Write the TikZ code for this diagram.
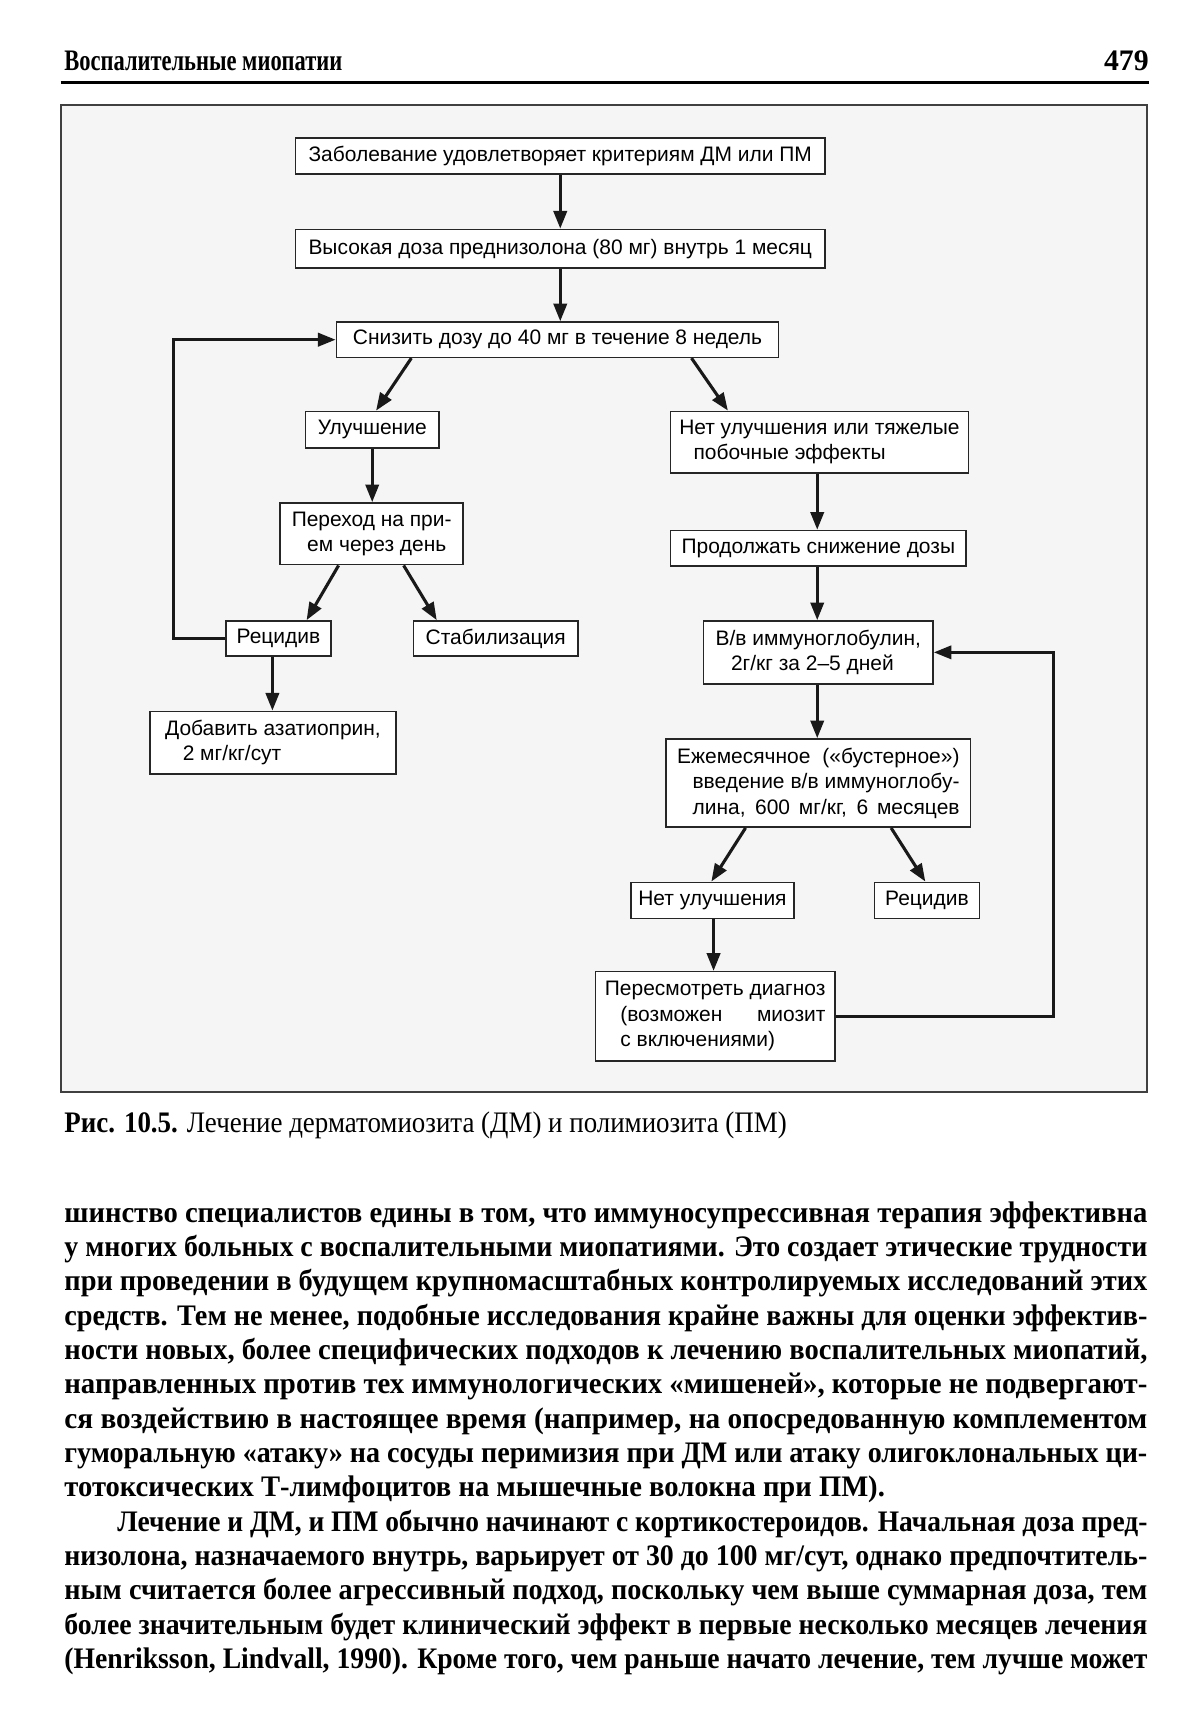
\documentclass[tikz,border=0pt]{standalone}
\usepackage{fontspec}
\usepackage{graphicx}
\setmainfont{Liberation Serif}
\newfontfamily\boxfont{Liberation Sans}
\usetikzlibrary{arrows.meta}
\newlength\jlen
\newcommand\jline[2]{\settowidth\jlen{#2}\ifdim\jlen>#1\relax\resizebox{#1}{\height}{#2}\else\makebox[#1][s]{#2}\fi}
\newcommand\bodyfont{\fontsize{13.5}{16}\selectfont\bfseries}
\tikzset{
  fbox/.style 2 args={draw=black!85, line width=0.7pt, fill=white, inner sep=0pt,
    minimum width=#1*0.5pt, minimum height=#2*0.5pt, align=left,
    font=\boxfont\fontsize{9.5}{11.5}\selectfont},
  arr/.style={line width=1.4pt, black!90, -{Triangle[length=8pt,width=6pt]}},
  bline/.style={anchor=base west, inner sep=0pt, font=\bodyfont},
}
\begin{document}
\begin{tikzpicture}[x=0.5pt,y=-0.5pt]
\useasboundingbox (0,0) rectangle (1088,1565);
\fill[white] (0,0) rectangle (1088,1565);
% header
\node[anchor=base west, inner sep=0pt, font=\fontsize{13.5}{16}\selectfont\bfseries] (hd) at (58,64) {\resizebox{126pt}{\height}{Воспалительные миопатии}};
\node[anchor=base east, inner sep=0pt, font=\fontsize{13.5}{16}\selectfont\bfseries] (pg) at (1042,64) {479};
\draw[line width=1.2pt] (55,75) -- (1042,75);
% frame
\draw[black!75, line width=0.8pt, fill=black!4] (55,95) rectangle (1040,990);
% boxes
\node[fbox={480}{33}] (b1) at (508,141.5) {Заболевание удовлетворяет критериям ДМ или ПМ};
\node[fbox={480}{35}] (b2) at (508,225.5) {Высокая доза преднизолона (80 мг) внутрь 1 месяц};
\node[fbox={401}{32}] (b3) at (505.5,308) {Снизить дозу до 40 мг в течение 8 недель};
\node[fbox={121}{33}] (u) at (337.5,389.5) {Улучшение};
\node[fbox={166}{56}] (p) at (337,484) {Переход на при-\\\hspace*{7pt}ем через день};
\node[fbox={95}{32}] (r1) at (252.5,579) {Рецидив};
\node[fbox={149}{32}] (s) at (449.5,579) {Стабилизация};
\node[fbox={223}{57}] (d) at (247.5,673.5) {Добавить азатиоприн,\\\hspace*{8pt}2 мг/кг/сут};
\node[fbox={270}{56}] (n) at (743,401) {Нет улучшения или тяжелые\\\hspace*{6.5pt}побочные эффекты};
\node[fbox={268}{32}] (pr) at (742,497) {Продолжать снижение дозы};
\node[fbox={208}{57}] (iv) at (742,591.5) {В/в иммуноглобулин,\\\hspace*{7pt}2г/кг за 2–5 дней};
\node[fbox={276}{80}] (em) at (742,710) {\jline{128pt}{Ежемесячное («бустерное»)}\\\hspace*{7pt}\jline{121pt}{введение в/в иммуноглобу-}\\\hspace*{7pt}\jline{121pt}{лина, 600 мг/кг, 6 месяцев}};
\node[fbox={148}{33}] (nu) at (646,816.5) {Нет улучшения};
\node[fbox={95}{33}] (r2) at (840.5,816.5) {Рецидив};
\node[fbox={217}{81}] (rv) at (648.5,921.5) {\jline{100pt}{Пересмотреть диагноз}\\\hspace*{7pt}\jline{93pt}{(возможен миозит}\\\hspace*{7pt}с включениями)};
% arrows
\draw[arr] (b1.south) -- (b1.south |- b2.north);
\draw[arr] (b2.south) -- (b2.south |- b3.north);
\draw[arr] (373,0 |- b3.south) -- (341,0 |- u.north);
\draw[arr] (627,0 |- b3.south) -- (660,0 |- n.north);
\draw[arr] (u.south) -- (u.south |- p.north);
\draw[arr] (307,0 |- p.south) -- (278,0 |- r1.north);
\draw[arr] (366,0 |- p.south) -- (396,0 |- s.north);
\draw[arr] (247,0 |- r1.south) -- (247,0 |- d.north);
\draw[arr] (r1.west) -- (157,0 |- r1.west) -- (157,0 |- b3.west) -- (b3.west);
\draw[arr] (741,0 |- n.south) -- (741,0 |- pr.north);
\draw[arr] (741,0 |- pr.south) -- (741,0 |- iv.north);
\draw[arr] (741,0 |- iv.south) -- (741,0 |- em.north);
\draw[arr] (676,0 |- em.south) -- (645,0 |- nu.north);
\draw[arr] (808,0 |- em.south) -- (839,0 |- r2.north);
\draw[arr] (647,0 |- nu.south) -- (647,0 |- rv.north);
\draw[arr] (rv.east) -- (955,0 |- rv.east) |- (iv.east);
% caption
\node[anchor=base west, inner sep=0pt, font=\fontsize{13.5}{16}\selectfont] (cap) at (58,1027) {\resizebox{327.5pt}{\height}{\textbf{Рис. 10.5.} Лечение дерматомиозита (ДМ) и полимиозита (ПМ)}};
% body text
\node[bline] (l1) at (58,1108.0) {\jline{491pt}{шинство специалистов едины в том, что иммуносупрессивная терапия эффективна}};
\node[bline] (l2) at (58,1139.15) {\jline{491pt}{у многих больных с воспалительными миопатиями. Это создает этические трудности}};
\node[bline] (l3) at (58,1170.3) {\jline{491pt}{при проведении в будущем крупномасштабных контролируемых исследований этих}};
\node[bline] (l4) at (58,1201.45) {\jline{491pt}{средств. Тем не менее, подобные исследования крайне важны для оценки эффектив-}};
\node[bline] (l5) at (58,1232.6) {\jline{491pt}{ности новых, более специфических подходов к лечению воспалительных миопатий,}};
\node[bline] (l6) at (58,1263.75) {\jline{491pt}{направленных против тех иммунологических «мишеней», которые не подвергают-}};
\node[bline] (l7) at (58,1294.9) {\jline{491pt}{ся воздействию в настоящее время (например, на опосредованную комплементом}};
\node[bline] (l8) at (58,1326.05) {\jline{491pt}{гуморальную «атаку» на сосуды перимизия при ДМ или атаку олигоклональных ци-}};
\node[bline] (l9) at (58,1357.2) {\resizebox{372pt}{\height}{тотоксических Т-лимфоцитов на мышечные волокна при ПМ).}};
\node[bline] (l10) at (106,1388.35) {\jline{467pt}{Лечение и ДМ, и ПМ обычно начинают с кортикостероидов. Начальная доза пред-}};
\node[bline] (l11) at (58,1419.5) {\jline{491pt}{низолона, назначаемого внутрь, варьирует от 30 до 100 мг/сут, однако предпочтитель-}};
\node[bline] (l12) at (58,1450.65) {\jline{491pt}{ным считается более агрессивный подход, поскольку чем выше суммарная доза, тем}};
\node[bline] (l13) at (58,1481.8) {\jline{491pt}{более значительным будет клинический эффект в первые несколько месяцев лечения}};
\node[bline] (l14) at (58,1512.95) {\jline{491pt}{(Henriksson, Lindvall, 1990). Кроме того, чем раньше начато лечение, тем лучше может}};
\end{tikzpicture}
\end{document}
